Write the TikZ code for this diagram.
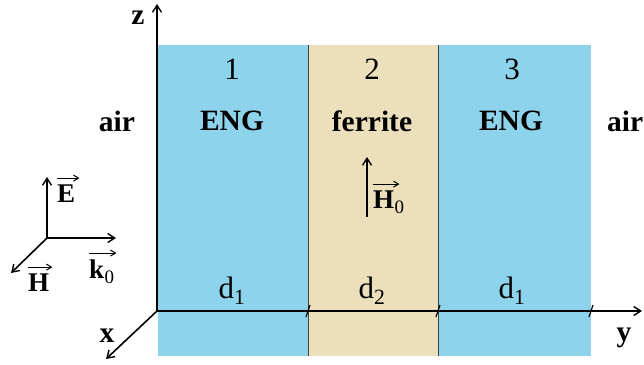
\documentclass[tikz,border=0pt]{standalone}
\usepackage{fontspec}
\setmainfont{Liberation Serif}
\usetikzlibrary{arrows.meta}
\definecolor{engblue}{HTML}{8ED3EC}
\definecolor{ferbeige}{HTML}{EBDFBC}
\begin{document}
\begin{tikzpicture}[x=1pt,y=-1pt,
  axis/.style={line width=1.6pt,-{Straight Barb[length=7pt,width=9pt,line width=1.4pt]}},
  varrow/.style={line width=1.1pt,-{Straight Barb[length=5pt,width=6pt,line width=1pt]}},
  lbl/.style={font=\fontsize{29.5}{32}\selectfont\bfseries,inner sep=0pt},
  vlbl/.style={font=\fontsize{27}{29}\selectfont\bfseries,inner sep=0pt},
  sub/.style={font=\fontsize{19}{20}\selectfont,inner sep=0pt},
  num/.style={font=\fontsize{31}{33}\selectfont,inner sep=0pt},
  bnd/.style={draw=black!75,line width=0.8pt},
  tick/.style={line width=1.2pt}]
\useasboundingbox (0,0) rectangle (644,364);
% layers
\fill[engblue] (158,45) rectangle (308,356);
\fill[ferbeige] (308,45) rectangle (438,356);
\fill[engblue] (438,45) rectangle (591,356);
\draw[bnd] (308,45) -- (308,356);
\draw[bnd] (438,45) -- (438,356);
% axes
\coordinate (O) at (157,311);
\coordinate (zend) at (157,4);
\coordinate (yend) at (642,311);
\coordinate (xend) at (106,359);
\draw[axis] (O) -- (zend);
\draw[axis] (O) -- (yend);
\draw[axis] (O) -- (xend);
\node[lbl] (zl) at (138,18) {z};
\node[lbl] (yl) at (624,338) {y};
\node[lbl] (xl) at (107,336) {x};
% ticks
\coordinate (t1) at (308,311);
\coordinate (t2) at (438,311);
\coordinate (t3) at (591,311);
\foreach \t in {t1,t2,t3} \draw[tick] ([xshift=-2pt,yshift=-6pt]\t) -- ([xshift=2pt,yshift=6pt]\t);
% labels
\node[num] (n1) at (232,69) {1};
\node[num] (n2) at (372,69) {2};
\node[num] (n3) at (512,69) {3};
\node[lbl] (airL) at (117,121) {air};
\node[lbl] (eng1) at (232,121) {ENG};
\node[lbl] (fer) at (372,121) {ferrite};
\node[lbl] (eng3) at (511,121) {ENG};
\node[lbl,anchor=west] (airR) at (607,121) {air};
\node[num] (d1a) at (232,291) {d\textsubscript{1}};
\node[num] (d2) at (372,291) {d\textsubscript{2}};
\node[num] (d1b) at (512,291) {d\textsubscript{1}};
% H0
\coordinate (h0s) at (367,217);
\coordinate (h0e) at (367,157);
\draw[axis] (h0s) -- (h0e);
\node[vlbl,anchor=base west] (h0) at (373,208) {H};
\node[sub,anchor=base west] (h0sub) at ([yshift=-5pt]h0.base east) {0};
\draw[varrow] ([yshift=6pt]h0.north west) -- ([xshift=5pt,yshift=6pt]h0.north east);
% field triad
\coordinate (F) at (47,238);
\coordinate (Ee) at (47,177);
\coordinate (ke) at (116,238);
\coordinate (He) at (11,273);
\draw[axis] (F) -- (Ee);
\draw[axis] (F) -- (ke);
\draw[axis] (F) -- (He);
\node[vlbl,anchor=base west] (El) at (57,202) {E};
\draw[varrow] ([yshift=6pt]El.north west) -- ([xshift=4pt,yshift=6pt]El.north east);
\node[vlbl,anchor=base west] (kl) at (89,278) {k};
\node[sub,anchor=base west] (klsub) at ([yshift=-5pt]kl.base east) {0};
\draw[varrow] ([yshift=6pt]kl.north west) -- ([xshift=12pt,yshift=6pt]kl.north east);
\node[vlbl,anchor=base west] (Hl) at (28,291) {H};
\draw[varrow] ([yshift=6pt]Hl.north west) -- ([xshift=3pt,yshift=6pt]Hl.north east);
\end{tikzpicture}
\end{document}
